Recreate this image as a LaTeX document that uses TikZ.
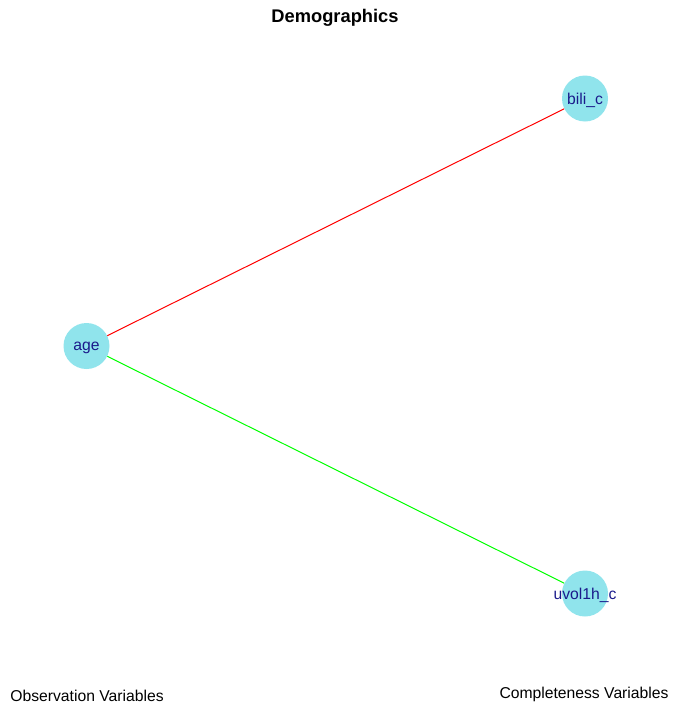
\documentclass[tikz,border=0pt]{standalone}
\usepackage{fontspec}
\setmainfont{Liberation Sans}
\usepackage{tikz}
\usetikzlibrary{positioning}

\definecolor{nodefill}{RGB}{144,228,236}
\definecolor{labelblue}{RGB}{26,26,139}

\begin{document}
\begin{tikzpicture}[x=1pt, y=-1pt,
        font=\fontsize{15.7}{18}\selectfont,
        var/.style={circle, fill=nodefill, minimum size=46pt, inner sep=0pt},
        varname/.style={text=labelblue, yshift=-2pt},
        side/.style={inner sep=0pt}]
        \useasboundingbox (0,0) rectangle (672,704);
        % Place nodes
        \node [font=\fontsize{18.3}{22}\selectfont\bfseries] (title) at (335,18) {Demographics};
        \node [var, label={[varname]center:age}] (age) at (86.5,346) {};
        \node [var, label={[varname]center:bili\_c}] (bili) at (585,98.5) {};
        \node [var, label={[varname]center:uvol1h\_c}] (uvol) at (585,593.5) {};
        \node [side] (obs) at (87,696) {Observation Variables};
        \node [side] (compl) at (584,694) {Completeness Variables};

        % Draw edges
        \draw [red, line width=1pt] (age) -- (bili);
        \draw [green, line width=1pt] (age) -- (uvol);
    \end{tikzpicture}
\end{document}
